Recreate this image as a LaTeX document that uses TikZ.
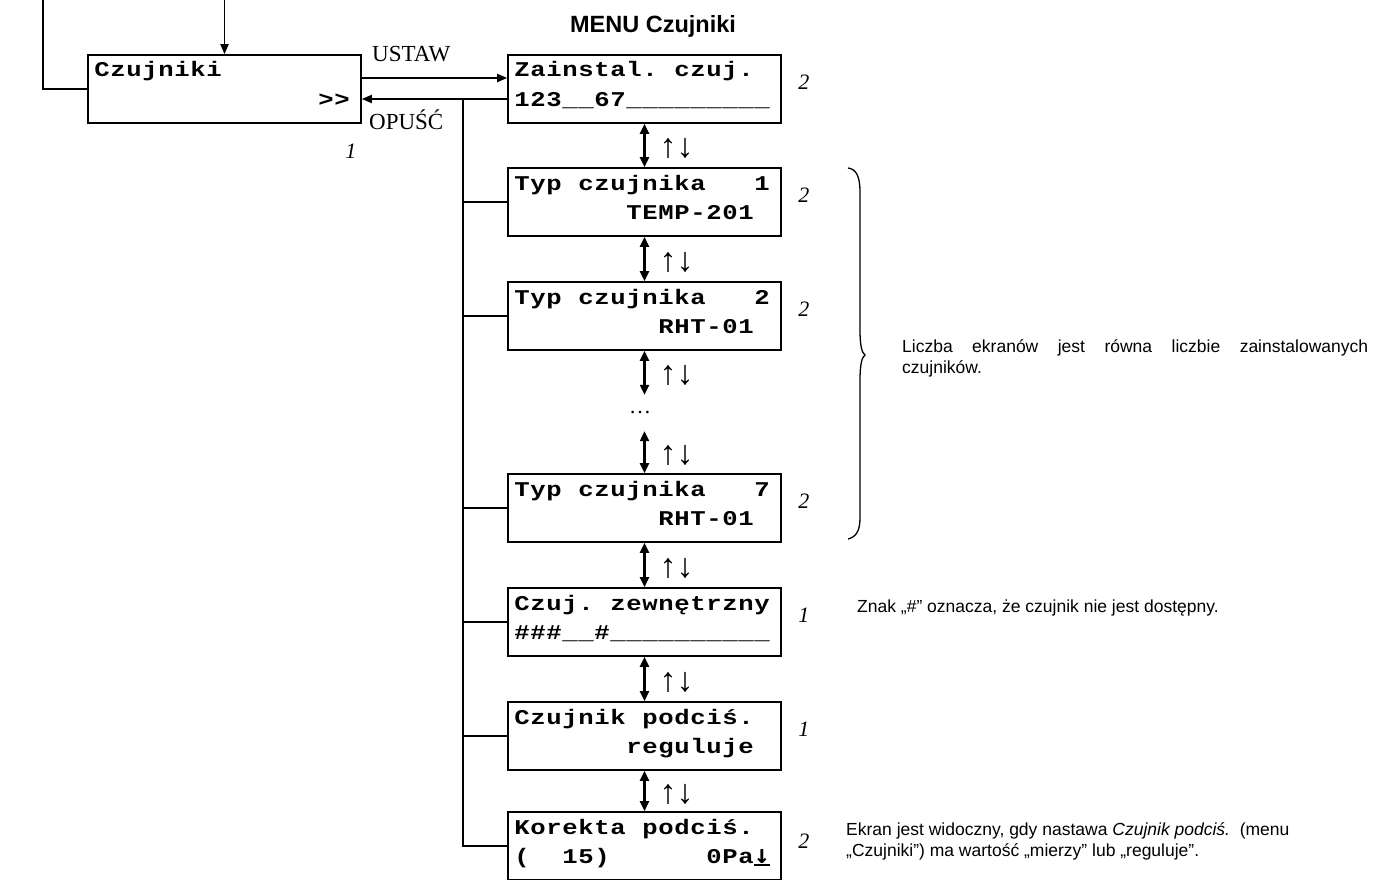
\documentclass[tikz,border=0pt]{standalone}
\usepackage{fontspec}
\usetikzlibrary{arrows.meta,calc}
\setmainfont{Liberation Serif}
\newfontfamily\sansfam{Liberation Sans}
\newfontfamily\monofam{Liberation Mono}[FakeStretch=1.22]
\newfontfamily\dvmono{DejaVu Sans Mono}
\newcommand\numfont{\fontsize{22}{26}\selectfont\itshape}
\newcommand\udfont{\fontsize{34}{38}\selectfont}
\newcommand\dotsfont{\fontsize{22}{26}\selectfont}
\newcommand\lblfont{\fontsize{23}{27}\selectfont}
\newcommand\notefont{\sansfam\fontsize{17.5}{21}\selectfont}
\newcommand\lcdfont{\monofam\bfseries\fontsize{21}{25}\selectfont}
\newcommand\downbar{\vtop{\hbox{\dvmono\bfseries\fontsize{26}{30}\selectfont ↓}\kern0.6pt\hrule height 1.8pt}}
\makeatletter
\def\lcdend{\lcdend}
\def\lcd#1{\lcd@loop#1\lcdend}
\def\lcd@loop#1{%
  \ifx#1\lcdend
  \else
    \ifx#1~\hbox to 16pt{}\else\hbox to 16pt{\hss#1\hss}\fi
    \expandafter\lcd@loop
  \fi}
\makeatother
\newcommand\lcdbox[2]{\vbox to 68pt{\offinterlineskip\lcdfont\kern22pt\hbox to 273pt{\kern6pt\smash{\lcd{#1}}\hss}\kern29.5pt\hbox to 273pt{\kern6pt\smash{\lcd{#2}}\hss}\vss}}
\begin{document}
\begin{tikzpicture}[x=1pt,y=-1pt,
  box/.style={draw, line width=1.6pt, inner sep=0pt},
  harr/.style={line width=1.8pt, -{Triangle[length=10pt,width=8pt]}},
  darr/.style={line width=2.2pt, {Triangle[length=10pt,width=9pt]}-{Triangle[length=10pt,width=9pt]}},
  tree/.style={line width=1.8pt},
  branch/.style={line width=1.3pt},
  num/.style={font=\numfont, inner sep=0pt},
  ud/.style={font=\udfont, inner sep=0pt, anchor=west, xshift=14pt, yshift=-3pt},
  note/.style={font=\notefont, inner sep=0pt},
  lbl/.style={font=\lblfont, inner sep=0pt, anchor=base west}]
\fill[white] (0,0) rectangle (1373,880);
\useasboundingbox (0,0) rectangle (1373,880);

% boxes
\node[box] (czuj) at (224.5,89) {\lcdbox{Czujniki}{~~~~~~~~~~~~~~>>}};
\node[box] (zain) at (644.5,89) {\lcdbox{Zainstal.~czuj.}{123\_\_67\_\_\_\_\_\_\_\_\_}};
\node[box] (typ1) at (644.5,202) {\lcdbox{Typ~czujnika~~~1}{~~~~~~~TEMP-201}};
\node[box] (typ2) at (644.5,316) {\lcdbox{Typ~czujnika~~~2}{~~~~~~~~~RHT-01}};
\node[inner sep=0pt, minimum height=36pt, font=\dotsfont] (dots) at (640,413) {…};
\node[box] (typ7) at (644.5,508) {\lcdbox{Typ~czujnika~~~7}{~~~~~~~~~RHT-01}};
\node[box] (zewn) at (644.5,622) {\lcdbox{Czuj.~zewnętrzny}{\#\#\#\_\_\#\_\_\_\_\_\_\_\_\_\_}};
\node[box] (podc) at (644.5,736) {\lcdbox{Czujnik~podciś.}{~~~~~~~reguluje}};
\node[box] (kor) at (644.5,846) {\lcdbox{Korekta~podciś.}{(~~15)~~~~~~0Pa\downbar}};

% title and labels
\node[anchor=base, font=\sansfam\bfseries\fontsize{23.5}{28}\selectfont, inner sep=0pt] (menu) at (653,33) {MENU Czujniki};
\node[lbl] (ustaw) at (372,62) {USTAW};
\node[lbl] (opusc) at (369,130) {OPUŚĆ};

% numbers
\node[num] (n0) at ([xshift=-11pt,yshift=-27pt]czuj.south east) {1};
\node[num] (n1) at ([xshift=22pt,yshift=7pt]zain.east) {2};
\node[num] (n2) at ([xshift=22pt,yshift=7pt]typ1.east) {2};
\node[num] (n3) at ([xshift=22pt,yshift=7pt]typ2.east) {2};
\node[num] (n4) at ([xshift=22pt,yshift=7pt]typ7.east) {2};
\node[num] (n5) at ([xshift=22pt,yshift=7pt]zewn.east) {1};
\node[num] (n6) at ([xshift=22pt,yshift=7pt]podc.east) {1};
\node[num] (n7) at ([xshift=22pt,yshift=5pt]kor.east) {2};

% top connectors
\coordinate (tl) at (43,0);
\coordinate (tm) at (224.5,0);
\draw[tree] (tl) |- (czuj.west);
\draw[harr] (tm) -- (czuj.north);

% USTAW / OPUSC
\draw[harr] ([yshift=11pt]czuj.east) -- ([yshift=11pt]zain.west);
\draw[harr] ([yshift=-10pt]zain.west) -- ([yshift=-10pt]czuj.east);

% tree back to OPUSC
\coordinate (j) at (463,99);
\draw[tree] (j) |- (kor.west);
\draw[branch] (j |- typ1.west) -- (typ1.west);
\draw[branch] (j |- typ2.west) -- (typ2.west);
\draw[branch] (j |- typ7.west) -- (typ7.west);
\draw[branch] (j |- zewn.west) -- (zewn.west);
\draw[branch] (j |- podc.west) -- (podc.west);

% up/down arrows
\draw[darr] (zain.south) -- (typ1.north) node[midway, ud] (u1) {↑↓};
\draw[darr] (typ1.south) -- (typ2.north) node[midway, ud] (u2) {↑↓};
\draw[darr] (typ2.south) -- (typ2.south |- dots.north) node[midway, ud] (u3) {↑↓};
\draw[darr] (typ7.north |- dots.south) -- (typ7.north) node[midway, ud] (u4) {↑↓};
\draw[darr] (typ7.south) -- (zewn.north) node[midway, ud] (u5) {↑↓};
\draw[darr] (zewn.south) -- (podc.north) node[midway, ud] (u6) {↑↓};
\draw[darr] (podc.south) -- (kor.north) node[midway, ud] (u7) {↑↓};

% brace
\draw[line width=1.3pt] (848,168) .. controls (856,169) and (860,176) .. (860,192) -- (860,330) .. controls (860,346) and (862,353) .. (865,355) .. controls (862,357) and (860,364) .. (860,380) -- (860,518) .. controls (860,531) and (856,537) .. (848,539);

% notes
\node[note, anchor=north west, text width=466pt, align=justify] (liczba) at (902,339) {Liczba ekranów jest równa liczbie zainstalowanych\linebreak czujników.};
\node[note, anchor=base west] (znak) at (857,612) {Znak „\#” oznacza, że czujnik nie jest dostępny.};
\node[note, anchor=north west, align=left] (ekran) at (846,822) {Ekran jest widoczny, gdy nastawa \textit{Czujnik podciś.}\ \ (menu\\„Czujniki”) ma wartość „mierzy” lub „reguluje”.};
\end{tikzpicture}
\end{document}
